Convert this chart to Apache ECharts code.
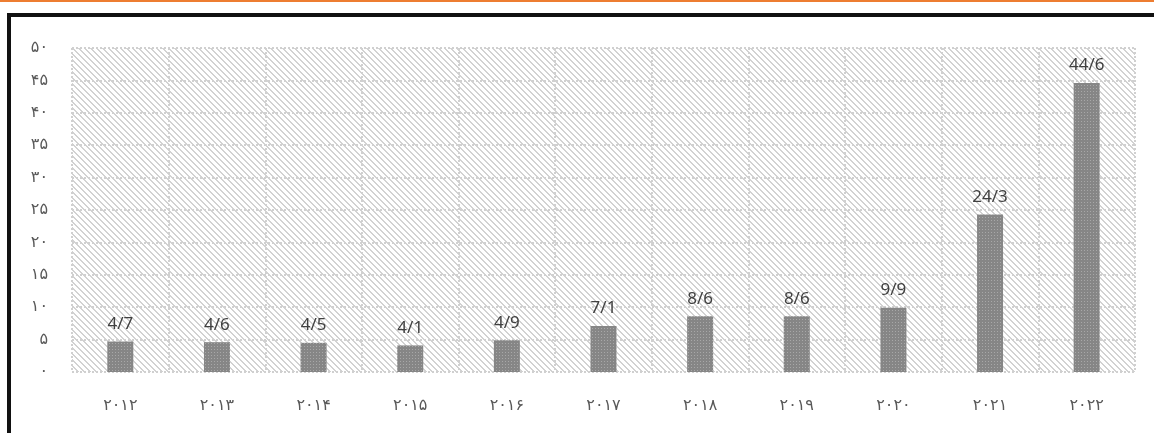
<!DOCTYPE html>
<html>
<head>
<meta charset="utf-8">
<script src="https://cdn.jsdelivr.net/npm/echarts@6/dist/echarts.min.js"></script>
<style>
  body { margin: 0; background: #fff; }
  #main { position: absolute; left: 0; top: 0; width: 1154px; height: 433px; }
  #topline { position: absolute; left: 0; top: 0; width: 1154px; height: 2px; background: #ed7d31; }
  #frame { position: absolute; left: 7px; top: 13px; width: 1200px; height: 500px;
           border-left: 4px solid #111; border-top: 4px solid #111; pointer-events: none; }
</style>
</head>
<body>
<div id="main"></div>
<div id="topline"></div>
<div id="frame"></div>
<script>
// سال‌ها
const years = ['۲۰۱۲', '۲۰۱۳', '۲۰۱۴', '۲۰۱۵', '۲۰۱۶', '۲۰۱۷', '۲۰۱۸', '۲۰۱۹', '۲۰۲۰', '۲۰۲۱', '۲۰۲۲'];
const values = [4.7, 4.6, 4.5, 4.1, 4.9, 7.1, 8.6, 8.6, 9.9, 24.3, 44.6];
const valueLabels = ['4/7', '4/6', '4/5', '4/1', '4/9', '7/1', '8/6', '8/6', '9/9', '24/3', '44/6'];
const yTicks = {0: '۰', 5: '۵', 10: '۱۰', 15: '۱۵', 20: '۲۰', 25: '۲۵', 30: '۳۰', 35: '۳۵', 40: '۴۰', 45: '۴۵', 50: '۵۰'};

// hatched background pattern (\\\\)
function hatch() {
  const n = 6;
  const c = document.createElement('canvas');
  c.width = n; c.height = n;
  const g = c.getContext('2d');
  g.fillStyle = '#ffffff';
  g.fillRect(0, 0, n, n);
  g.fillStyle = '#d2d2d2';
  for (let i = 0; i < n; i++) {
    g.fillRect(i, i, 1, 1);
    g.fillRect((i + 1) % n, i, 1, 1);
  }
  return c;
}
// dotted gray bar pattern
function dots() {
  const c = document.createElement('canvas');
  c.width = 3; c.height = 3;
  const g = c.getContext('2d');
  g.fillStyle = '#868686';
  g.fillRect(0, 0, 3, 3);
  g.fillStyle = '#a8a8a8';
  g.fillRect(1, 1, 1, 1);
  return c;
}

const chart = echarts.init(document.getElementById('main'));
chart.setOption({
  animation: false,
  grid: {
    left: 72, right: 19, top: 48, bottom: 61,
    containLabel: false,
    show: true,
    borderWidth: 0,
    backgroundColor: { image: hatch(), repeat: 'repeat' }
  },
  xAxis: {
    type: 'category',
    data: years,
    axisLine: { show: false },
    axisTick: { show: false },
    axisLabel: {
      margin: 26,
      color: '#595959',
      fontSize: 16,
      fontFamily: 'DejaVu Sans'
    },
    splitLine: {
      show: true,
      lineStyle: { color: '#d0d0d0', width: 2, type: 'dotted' }
    }
  },
  yAxis: {
    type: 'value',
    min: 0, max: 50, interval: 5,
    axisLine: { show: false },
    axisTick: { show: false },
    axisLabel: {
      margin: 24,
      color: '#595959',
      fontSize: 16,
      fontFamily: 'DejaVu Sans',
      formatter: v => yTicks[v]
    },
    splitLine: {
      show: true,
      lineStyle: { color: '#d0d0d0', width: 2, type: 'dotted' }
    }
  },
  series: [{
    type: 'bar',
    data: values,
    barWidth: 26,
    itemStyle: { color: { image: dots(), repeat: 'repeat' } },
    label: {
      show: true,
      position: 'top',
      distance: 9,
      color: '#404040',
      fontSize: 17,
      fontFamily: 'Noto Sans',
      formatter: p => valueLabels[p.dataIndex]
    }
  }]
});
</script>
</body>
</html>
